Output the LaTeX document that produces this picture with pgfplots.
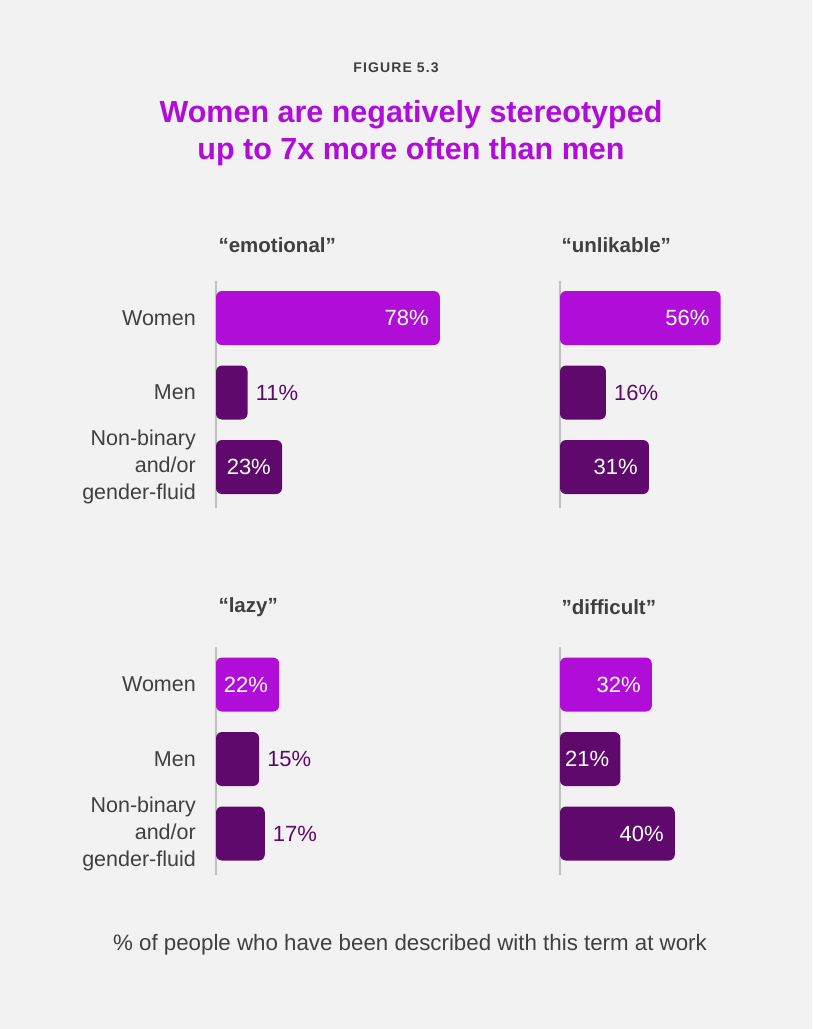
\documentclass[border=0pt]{standalone}
\usepackage{pgfplots}
\pgfplotsset{compat=1.18}
\usepackage{fontspec}
\setmainfont{Liberation Sans}
\definecolor{bg}{HTML}{F2F2F2}
\definecolor{brightp}{HTML}{B10DD9}
\definecolor{darkp}{HTML}{5E096B}
\definecolor{txt}{HTML}{404040}
\definecolor{axgray}{HTML}{C0C0C0}

\pgfplotsset{
  panel/.style={
    x=2.87pt, y=74.5pt,
    xmin=3, xmax=85,
    ymin=0.45, ymax=3.5,
    anchor=south west,
    axis x line=none,
    axis y line*=left,
    y axis line style={axgray, line width=2pt, -},
    ytick={1,2,3},
    yticklabels={{Non-binary\\and/or\\gender-fluid},Men,Women},
    yticklabel style={align=right, font=\fontsize{21.5}{27}\selectfont, text=txt, inner sep=0pt, xshift=-20pt},
    major tick length=0pt,
    x filter/.expression={x+3},
    clip=true,
    /pgf/number format/assume math mode=true,
  },
  barbase/.style={xbar, bar width=54pt, bar shift=0pt, draw=none, rounded corners=6pt,
    point meta=rawx,
    nodes near coords={\pgfmathprintnumber[fixed,precision=0,assume math mode=true]{\pgfplotspointmeta}\%},
    every node near coord/.append style={font=\fontsize{22}{24}\selectfont, inner sep=0pt}},
  bw/.style={barbase, fill=brightp},
  bd/.style={barbase, fill=darkp},
  lin/.style={every node near coord/.append style={anchor=east, text=white, xshift=-11pt}},
  lout/.style={every node near coord/.append style={anchor=west, text=darkp, xshift=8pt}},
}

\begin{document}
\begin{tikzpicture}[x=1pt,y=1pt]
\path[use as bounding box, fill=bg] (0pt,0pt) rectangle (812pt,-1029pt);

\node[font=\bfseries\fontsize{14}{16}\selectfont\addfontfeatures{LetterSpace=8}, text=txt] at (396pt,-68pt) {FIGURE 5.3};
\node[font=\bfseries\fontsize{30.5}{37}\selectfont, text=brightp, align=center] at (411pt,-133pt) {Women are negatively stereotyped\\up to 7x more often than men};

\node[anchor=west, font=\bfseries\fontsize{20.5}{24}\selectfont, text=txt] at (215pt,-245pt) {“emotional”};
\node[anchor=west, font=\bfseries\fontsize{20.5}{24}\selectfont, text=txt] at (558pt,-245pt) {“unlikable”};
\node[anchor=west, font=\bfseries\fontsize{20.5}{24}\selectfont, text=txt] at (215pt,-607pt) {“lazy”};
\node[anchor=west, font=\bfseries\fontsize{20.5}{24}\selectfont, text=txt] at (558pt,-607pt) {”difficult”};

\node[font=\fontsize{22.3}{26}\selectfont, text=txt] at (410pt,-945pt) {\% of people who have been described with this term at work};

% emotional
\begin{axis}[panel, at={(216pt,-508pt)}]
\addplot[bw, lin] coordinates {(78,3)};
\addplot[bd, lout] coordinates {(11,2)};
\addplot[bd, lin] coordinates {(23,1)};
\end{axis}

% unlikable
\begin{axis}[panel, at={(560pt,-508pt)}, yticklabels={}]
\addplot[bw, lin] coordinates {(56,3)};
\addplot[bd, lout] coordinates {(16,2)};
\addplot[bd, lin] coordinates {(31,1)};
\end{axis}

% lazy
\begin{axis}[panel, at={(216pt,-874.5pt)}]
\addplot[bw, lin] coordinates {(22,3)};
\addplot[bd, lout] coordinates {(15,2)};
\addplot[bd, lout] coordinates {(17,1)};
\end{axis}

% difficult
\begin{axis}[panel, at={(560pt,-874.5pt)}, yticklabels={}]
\addplot[bw, lin] coordinates {(32,3)};
\addplot[bd, lin] coordinates {(21,2)};
\addplot[bd, lin] coordinates {(40,1)};
\end{axis}
\end{tikzpicture}
\end{document}
